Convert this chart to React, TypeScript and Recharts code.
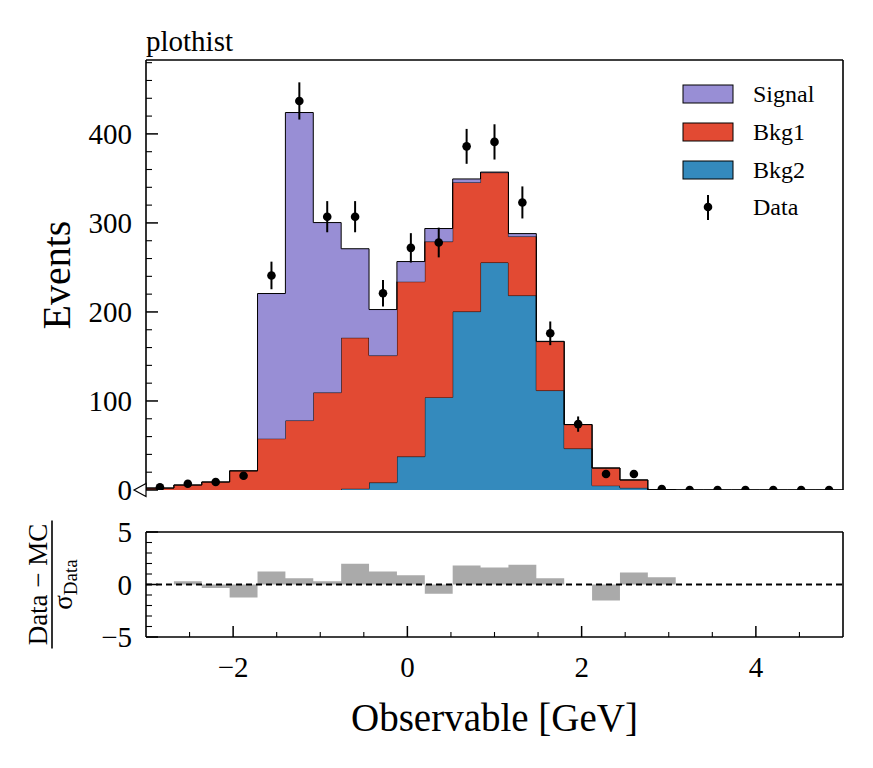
import React from 'react'
import {
  ComposedChart,
  Area,
  Scatter,
  ErrorBar,
  XAxis,
  YAxis,
  ReferenceLine,
  ReferenceDot,
  Legend,
  Label,
} from 'recharts'

const FONT = '"Liberation Serif", "DejaVu Serif", serif'

// histogram binning: 25 bins between -3 and 5
const binEdges = [
  -3, -2.68, -2.36, -2.04, -1.72, -1.4, -1.08, -0.76, -0.44, -0.12, 0.2, 0.52, 0.84,
  1.16, 1.48, 1.8, 2.12, 2.44, 2.76, 3.08, 3.4, 3.72, 4.04, 4.36, 4.68, 5,
]

// per-bin yields (stacked bottom to top: Bkg2, Bkg1, Signal)
const bkg2 = [0, 0, 0, 0, 0, 0, 0, 1.5, 8.3, 37.5, 104, 200.4, 255.5, 218.4, 111.7, 46.5, 4.9, 2.4, 0.2, 0, 0, 0, 0, 0, 0]
const bkg1 = [2.2, 5.6, 9, 21.5, 57.7, 78, 109.4, 169.5, 142.7, 196.5, 175, 145, 101, 66.3, 55, 27, 19.8, 8.9, 0.1, 0, 0, 0, 0, 0, 0]
const signal = [0, 0, 0, 0, 163, 346, 191, 100, 51.7, 22.6, 14.7, 4, 0.6, 3.3, 0.3, 0, 0, 0, 0, 0, 0, 0, 0, 0, 0]

const dataCounts = [3, 7, 9, 16, 241, 437, 307, 307, 221, 272, 278, 386, 391, 323, 176, 74, 18, 18, 1, 0, 0, 0, 0, 0, 0]
const dataErrors = [1.7, 2.6, 3, 4, 15.5, 20.9, 17.5, 17.5, 14.9, 16.5, 16.7, 19.6, 19.8, 18, 13.3, 8.6, 4.2, 4.2, 1, 0, 0, 0, 0, 0, 0]

// (Data - MC) / sigma_Data
const pulls = [0, 0.31, -0.34, -1.24, 1.24, 0.59, 0.31, 1.98, 1.24, 0.87, -0.87, 1.8, 1.61, 1.89, 0.59, 0, -1.52, 1.15, 0.68, 0, 0, 0, 0, 0, 0]

const X_MIN = -3
const X_MAX = 5
const Y_MAX_MAIN = 483
const PULL_LIM = 5

const xTicks = [-2.5, -2, -1.5, -1, -0.5, 0, 0.5, 1, 1.5, 2, 2.5, 3, 3.5, 4, 4.5]
const xMajor = [-2, 0, 2, 4]
const yTicksMain = [0, 20, 40, 60, 80, 100, 120, 140, 160, 180, 200, 220, 240, 260, 280, 300, 320, 340, 360, 380, 400, 420, 440, 460, 480]
const yMajorMain = [0, 100, 200, 300, 400]
const yTicksPull = [-5, -4, -3, -2, -1, 0, 1, 2, 3, 4, 5]
const yMajorPull = [-5, 0, 5]

const legendItems = [
  { name: 'Signal', color: '#988ED5' },
  { name: 'Bkg1', color: '#E24A33' },
  { name: 'Bkg2', color: '#348ABD' },
]

const stackRows = binEdges.map((x, i) => {
  const j = Math.min(i, bkg2.length - 1)
  return { x, bkg2: bkg2[j], bkg1: bkg1[j], signal: signal[j] }
})

const pullRows = binEdges.map((x, i) => ({ x, pull: pulls[Math.min(i, pulls.length - 1)] }))

const points = dataCounts.map((y, i) => ({
  x: (binEdges[i] + binEdges[i + 1]) / 2,
  y,
  err: dataErrors[i],
}))

const fmt = (v: number) => (v < 0 ? '\u2212' + Math.abs(v) : String(v))

function makeYTick(major: number[]) {
  return (props: any) => {
    const { x, y, payload } = props
    const isMajor = major.includes(payload.value)
    return (
      <g>
        <line x1={x} x2={x + (isMajor ? 12 : 6)} y1={y} y2={y} stroke="#000" strokeWidth={isMajor ? 1.5 : 1.1} />
        {isMajor && (
          <text x={x - 14} y={y + 10} textAnchor="end" fontSize={29} fontFamily={FONT} fill="#000">
            {fmt(payload.value)}
          </text>
        )}
      </g>
    )
  }
}

function makeXTick(withLabel: boolean) {
  return (props: any) => {
    const { x, y, payload } = props
    const isMajor = xMajor.includes(payload.value)
    return (
      <g>
        <line x1={x} x2={x} y1={y} y2={y - (isMajor ? 11 : 5)} stroke="#000" strokeWidth={isMajor ? 1.5 : 1.1} />
        {isMajor && withLabel && (
          <text x={x} y={y + 40} textAnchor="middle" fontSize={29} fontFamily={FONT} fill="#000">
            {fmt(payload.value)}
          </text>
        )}
      </g>
    )
  }
}

function LegendBox() {
  return (
    <svg width={180} height={150}>
      {legendItems.map((it, i) => (
        <g key={it.name}>
          <rect x={3} y={5 + i * 38} width={50} height={18} fill={it.color} stroke="#000" strokeWidth={1} />
          <text x={73} y={22 + i * 38} fontSize={24} fontFamily={FONT} fill="#000">
            {it.name}
          </text>
        </g>
      ))}
      <line x1={28} x2={28} y1={115} y2={140} stroke="#000" strokeWidth={2} />
      <circle cx={28} cy={127} r={4.3} fill="#000" />
      <text x={73} y={135} fontSize={24} fontFamily={FONT} fill="#000">
        Data
      </text>
    </svg>
  )
}

const axisLine = { stroke: '#000', strokeWidth: 1.6 }

export default function App() {
  return (
    <div style={{ position: 'absolute', left: 0, top: 0, width: 873, height: 768, background: '#fff' }}>
      <div style={{ position: 'absolute', left: 0, top: 0 }}>
        <ComposedChart width={873} height={512} data={stackRows} margin={{ top: 60, right: 30, bottom: 22, left: 86 }}>
          <XAxis
            dataKey="x"
            type="number"
            domain={[X_MIN, X_MAX]}
            ticks={xTicks}
            interval={0}
            allowDataOverflow
            height={0}
            tickSize={0}
            tickMargin={0}
            tickLine={false}
            axisLine={axisLine}
            tick={makeXTick(false)}
          />
          <YAxis
            type="number"
            domain={[0, Y_MAX_MAIN]}
            ticks={yTicksMain}
            interval={0}
            allowDataOverflow
            width={60}
            tickSize={0}
            tickMargin={0}
            tickLine={false}
            axisLine={axisLine}
            tick={makeYTick(yMajorMain)}
          >
            <Label
              content={(p: any) => {
                const cx = p.viewBox.x - 16
                const cy = p.viewBox.y + p.viewBox.height / 2
                return (
                  <text
                    x={cx}
                    y={cy}
                    transform={`rotate(-90 ${cx} ${cy})`}
                    textAnchor="middle"
                    fontSize={40}
                    fontFamily={FONT}
                    fill="#000"
                  >
                    Events
                  </text>
                )
              }}
            />
          </YAxis>
          <Area
            type="stepAfter"
            dataKey="bkg2"
            stackId="mc"
            fill="#348ABD"
            fillOpacity={1}
            stroke="#000"
            strokeWidth={1}
            isAnimationActive={false}
          />
          <Area
            type="stepAfter"
            dataKey="bkg1"
            stackId="mc"
            fill="#E24A33"
            fillOpacity={1}
            stroke="#000"
            strokeWidth={1}
            isAnimationActive={false}
          />
          <Area
            type="stepAfter"
            dataKey="signal"
            stackId="mc"
            fill="#988ED5"
            fillOpacity={1}
            stroke="#000"
            strokeWidth={1}
            isAnimationActive={false}
          />
          <Scatter
            data={points}
            dataKey="y"
            fill="#000"
            isAnimationActive={false}
            shape={(p: any) => <circle cx={p.cx} cy={p.cy} r={4.3} fill="#000" />}
          >
            <ErrorBar dataKey="err" direction="y" width={0} stroke="#000" strokeWidth={2} />
          </Scatter>
          {/* frame: top and right edges */}
          <ReferenceLine y={Y_MAX_MAIN} stroke="#000" strokeWidth={1.6} ifOverflow="visible">
            <Label
              content={(p: any) => (
                <text x={p.viewBox.x} y={p.viewBox.y - 9} fontSize={29} fontFamily={FONT} fill="#000">
                  plothist
                </text>
              )}
            />
          </ReferenceLine>
          <ReferenceLine x={X_MAX} stroke="#000" strokeWidth={1.6} ifOverflow="visible" />
          <ReferenceDot
            x={X_MIN}
            y={0}
            ifOverflow="visible"
            shape={(p: any) => (
              <path
                d={`M${p.cx - 12},${p.cy} L${p.cx},${p.cy - 6.5} L${p.cx},${p.cy + 6.5} Z`}
                fill="#fff"
                stroke="#000"
                strokeWidth={1.2}
              />
            )}
          />
          <Legend
            layout="horizontal"
            verticalAlign="middle"
            align="center"
            wrapperStyle={{ left: 680, top: 80, width: 180, height: 150 }}
            content={() => <LegendBox />}
          />
        </ComposedChart>
      </div>

      <div style={{ position: 'absolute', left: 0, top: 500 }}>
        <ComposedChart width={873} height={268} data={pullRows} margin={{ top: 32, right: 30, bottom: 0, left: 86 }}>
          <XAxis
            dataKey="x"
            type="number"
            domain={[X_MIN, X_MAX]}
            ticks={xTicks}
            interval={0}
            allowDataOverflow
            height={131}
            tickSize={0}
            tickMargin={0}
            tickLine={false}
            axisLine={axisLine}
            tick={makeXTick(true)}
          >
            <Label
              content={(p: any) => (
                <text
                  x={p.viewBox.x + p.viewBox.width / 2}
                  y={p.viewBox.y + 94}
                  textAnchor="middle"
                  fontSize={39}
                  fontFamily={FONT}
                  fill="#000"
                >
                  Observable [GeV]
                </text>
              )}
            />
          </XAxis>
          <YAxis
            type="number"
            domain={[-PULL_LIM, PULL_LIM]}
            ticks={yTicksPull}
            interval={0}
            allowDataOverflow
            width={60}
            tickSize={0}
            tickMargin={0}
            tickLine={false}
            axisLine={axisLine}
            tick={makeYTick(yMajorPull)}
          >
            <Label
              content={(p: any) => {
                const cx = p.viewBox.x - 34
                const cy = p.viewBox.y + p.viewBox.height / 2
                return (
                  <g transform={`translate(${cx} ${cy}) rotate(-90)`} fontFamily={FONT} fill="#000">
                    <text x={0} y={-5} textAnchor="middle" fontSize={27}>
                      Data {'\u2212'} MC
                    </text>
                    <line x1={-64} x2={64} y1={0} y2={0} stroke="#000" strokeWidth={1.6} />
                    <text x={0} y={20} textAnchor="middle" fontSize={27}>
                      σ<tspan fontSize={19} dy={5}>Data</tspan>
                    </text>
                  </g>
                )
              }}
            />
          </YAxis>
          <Area
            type="stepAfter"
            dataKey="pull"
            baseValue={0}
            fill="#aaaaaa"
            fillOpacity={1}
            stroke="none"
            isAnimationActive={false}
          />
          <ReferenceLine y={0} stroke="#000" strokeWidth={1.8} strokeDasharray="6 4" />
          <ReferenceLine y={PULL_LIM} stroke="#000" strokeWidth={1.6} ifOverflow="visible" />
          <ReferenceLine x={X_MAX} stroke="#000" strokeWidth={1.6} ifOverflow="visible" />
        </ComposedChart>
      </div>
    </div>
  )
}
